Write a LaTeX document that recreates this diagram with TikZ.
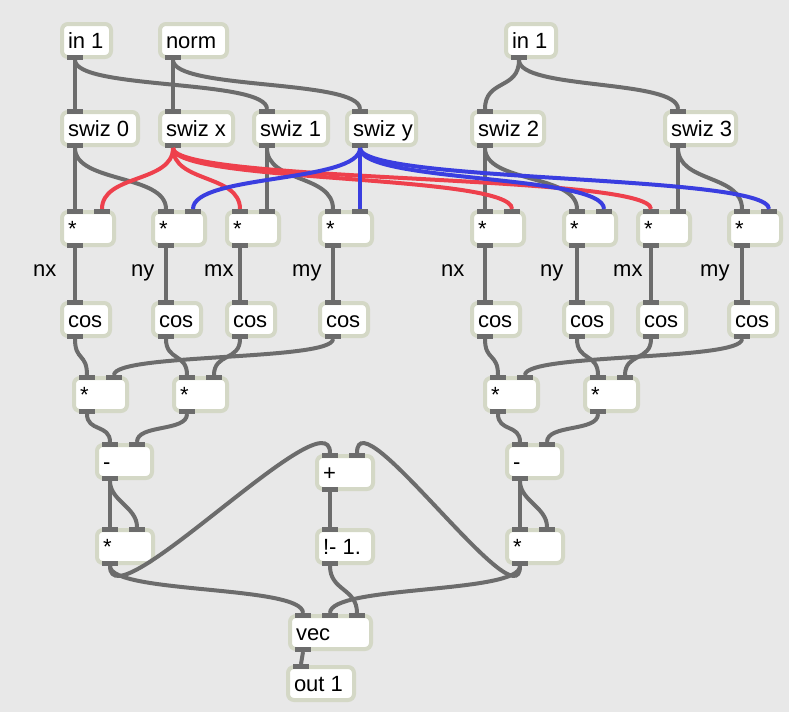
\documentclass[tikz,border=0pt]{standalone}
\usepackage{fontspec}
\setmainfont{Liberation Sans}

\definecolor{patchbg}{RGB}{232,232,232}
\definecolor{rim}{RGB}{212,216,198}
\definecolor{wire}{RGB}{108,108,108}
\definecolor{redwire}{RGB}{238,64,76}
\definecolor{bluewire}{RGB}{58,62,224}

\tikzset{
  obj/.style={draw=rim, fill=white, line width=4pt, rounded corners=6pt,
    anchor=north west, inner xsep=6pt, inner ysep=6pt,
    text height=18pt, text depth=3pt, outer sep=0pt},
  tab/.style={fill=wire},
  cable/.style={draw=wire, line width=4pt},
  cab/.style={to path={.. controls +(0,#1) and +(0,-#1) .. (\tikztotarget)}},
  cab/.default=35,
  lbl/.style={anchor=base west, inner sep=0pt}
}

% box: name, left, top, width, inlets, outlets, text
\newcommand{\patchobj}[7]{%
  \pgfmathsetmacro\objtw{#4-16}
  \node[obj] (#1) at (#2+2,#3+2) {\makebox[\objtw pt][l]{#7}};
  \ifnum#5>0
    \foreach \i in {1,...,#5}{
      \coordinate (#1-i\i) at ({#2+15+27*(\i-1)},#3-1);
      \fill[tab] ({#2+7+27*(\i-1)},#3-1) rectangle ++(16,5);
    }
  \fi
  \ifnum#6>0
    \coordinate (#1-o) at (#2+15,#3+38);
    \fill[tab] (#2+7,#3+38) rectangle ++(16,-5);
  \fi
}

\begin{document}
\begin{tikzpicture}[x=1pt, y=-1pt, font=\fontsize{22}{26}\selectfont]
  \fill[patchbg] (0,0) rectangle (789,712);
  \useasboundingbox (0,0) rectangle (789,712);

  % inputs
  \patchobj{inL}{60}{22}{53}{0}{1}{in 1}
  \patchobj{norm}{158}{22}{71}{0}{1}{norm}
  \patchobj{inR}{504}{22}{54}{0}{1}{in 1}

  % swizzles
  \patchobj{swizA}{60}{110}{80}{1}{1}{swiz 0}
  \patchobj{swizX}{158}{110}{77}{1}{1}{swiz x}
  \patchobj{swizB}{252}{110}{78}{1}{1}{swiz 1}
  \patchobj{swizY}{345}{110}{73}{1}{1}{swiz y}
  \patchobj{swizC}{470}{110}{76}{1}{1}{swiz 2}
  \patchobj{swizD}{663}{110}{75}{1}{1}{swiz 3}

  % products
  \patchobj{mA}{60}{210}{56}{2}{1}{*}
  \patchobj{mB}{151}{210}{56}{2}{1}{*}
  \patchobj{mC}{225}{210}{56}{2}{1}{*}
  \patchobj{mD}{318}{210}{56}{2}{1}{*}
  \patchobj{mE}{470}{210}{56}{2}{1}{*}
  \patchobj{mF}{562}{210}{56}{2}{1}{*}
  \patchobj{mG}{636}{210}{56}{2}{1}{*}
  \patchobj{mH}{727}{210}{56}{2}{1}{*}

  \node[lbl] (nxL) at (33,276) {nx};
  \node[lbl] (nyL) at (131,276) {ny};
  \node[lbl] (mxL) at (204,276) {mx};
  \node[lbl] (myL) at (292,276) {my};
  \node[lbl] (nxR) at (441,276) {nx};
  \node[lbl] (nyR) at (540,276) {ny};
  \node[lbl] (mxR) at (613,276) {mx};
  \node[lbl] (myR) at (700,276) {my};

  % cosines
  \patchobj{cA}{60}{301}{52}{1}{1}{cos}
  \patchobj{cB}{151}{301}{52}{1}{1}{cos}
  \patchobj{cC}{225}{301}{52}{1}{1}{cos}
  \patchobj{cD}{318}{301}{52}{1}{1}{cos}
  \patchobj{cE}{470}{301}{52}{1}{1}{cos}
  \patchobj{cF}{562}{301}{52}{1}{1}{cos}
  \patchobj{cG}{636}{301}{52}{1}{1}{cos}
  \patchobj{cH}{727}{301}{52}{1}{1}{cos}

  \patchobj{mI}{72}{376}{57}{2}{1}{*}
  \patchobj{mJ}{172}{376}{57}{2}{1}{*}
  \patchobj{mK}{483}{376}{57}{2}{1}{*}
  \patchobj{mL}{583}{376}{57}{2}{1}{*}

  \patchobj{subL}{95}{443}{59}{2}{1}{-}
  \patchobj{subR}{505}{443}{59}{2}{1}{-}
  \patchobj{sqL}{95}{528}{60}{2}{1}{*}
  \patchobj{sqR}{505}{528}{60}{2}{1}{*}

  \patchobj{plus}{315}{454}{60}{2}{1}{+}
  \patchobj{rsub}{315}{528}{60}{1}{1}{!- 1.}

  \patchobj{vec}{288}{614}{85}{3}{1}{vec}
  \patchobj{out}{286}{665}{70}{1}{0}{out 1}

  % wires
  \draw[cable] (inL-o) -- (swizA-i1);
  \draw[cable] (inL-o) to[cab=30] (swizB-i1);
  \draw[cable] (norm-o) -- (swizX-i1);
  \draw[cable] (norm-o) to[cab=30] (swizY-i1);
  \draw[cable] (inR-o) to[cab=30] (swizC-i1);
  \draw[cable] (inR-o) to[cab=30] (swizD-i1);

  \draw[cable] (swizA-o) -- (mA-i1);
  \draw[cable] (swizA-o) to[cab] (mB-i1);
  \draw[cable] (swizB-o) -- (mC-i2);
  \draw[cable] (swizB-o) to[cab] (mD-i1);
  \draw[cable] (swizC-o) -- (mE-i1);
  \draw[cable] (swizC-o) to[cab] (mF-i1);
  \draw[cable] (swizD-o) -- (mG-i2);
  \draw[cable] (swizD-o) to[cab] (mH-i1);

  \draw[cable, draw=redwire] (swizX-o) to[cab] (mA-i2);
  \draw[cable, draw=redwire] (swizX-o) to[cab] (mC-i1);
  \draw[cable, draw=redwire] (swizX-o) to[cab] (mE-i2);
  \draw[cable, draw=redwire] (swizX-o) to[cab] (mG-i1);
  \draw[cable, draw=bluewire] (swizY-o) to[cab] (mB-i2);
  \draw[cable, draw=bluewire] (swizY-o) -- (mD-i2);
  \draw[cable, draw=bluewire] (swizY-o) to[cab] (mF-i2);
  \draw[cable, draw=bluewire] (swizY-o) to[cab] (mH-i2);

  \foreach \m/\c in {mA/cA, mB/cB, mC/cC, mD/cD, mE/cE, mF/cF, mG/cG, mH/cH}
    \draw[cable] (\m-o) -- (\c-i1);

  \draw[cable] (cA-o) to[cab=22] (mI-i1);
  \draw[cable] (cD-o) to[cab=22] (mI-i2);
  \draw[cable] (cB-o) to[cab=22] (mJ-i1);
  \draw[cable] (cC-o) to[cab=22] (mJ-i2);
  \draw[cable] (cE-o) to[cab=22] (mK-i1);
  \draw[cable] (cH-o) to[cab=22] (mK-i2);
  \draw[cable] (cF-o) to[cab=22] (mL-i1);
  \draw[cable] (cG-o) to[cab=22] (mL-i2);

  \draw[cable] (mI-o) to[cab=18] (subL-i1);
  \draw[cable] (mJ-o) to[cab=18] (subL-i2);
  \draw[cable] (mK-o) to[cab=18] (subR-i1);
  \draw[cable] (mL-o) to[cab=18] (subR-i2);

  \draw[cable] (subL-o) -- (sqL-i1);
  \draw[cable] (subL-o) to[cab=20] (sqL-i2);
  \draw[cable] (subR-o) -- (sqR-i1);
  \draw[cable] (subR-o) to[cab=20] (sqR-i2);

  \draw[cable] (sqL-o) to[cab=60] (plus-i1);
  \draw[cable] (sqR-o) to[cab=60] (plus-i2);
  \draw[cable] (plus-o) -- (rsub-i1);

  \draw[cable] (sqL-o) to[cab=28] (vec-i1);
  \draw[cable] (sqR-o) to[cab=28] (vec-i2);
  \draw[cable] (rsub-o) to[cab=25] (vec-i3);
  \draw[cable] (vec-o) -- (out-i1);
\end{tikzpicture}
\end{document}
